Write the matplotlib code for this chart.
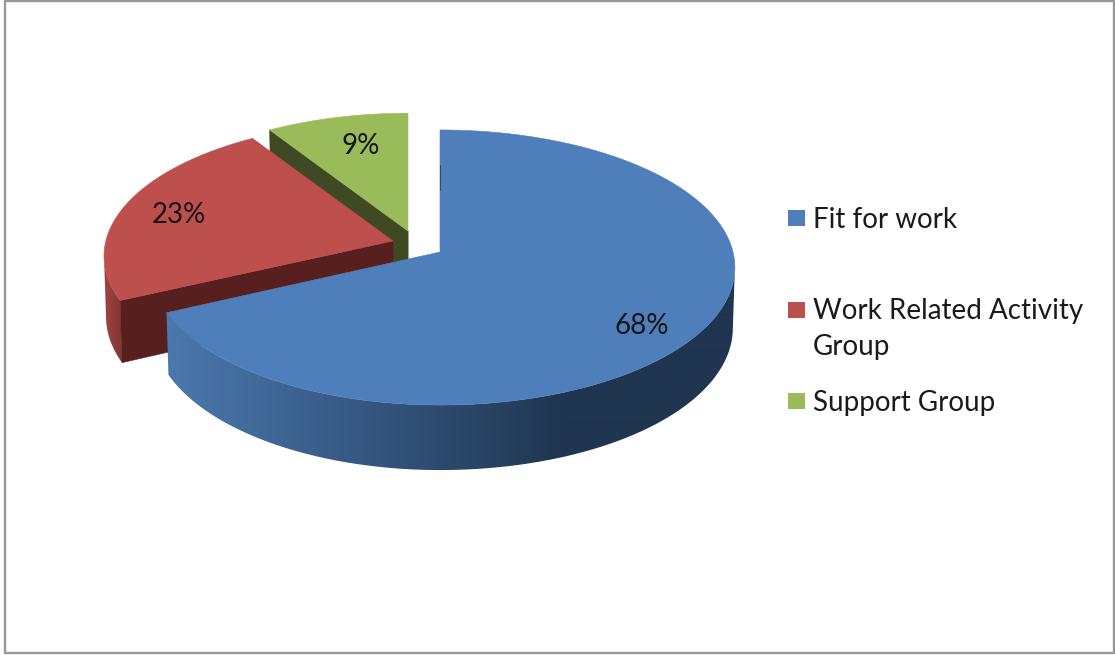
import numpy as np
import matplotlib
matplotlib.use("Agg")
import matplotlib.pyplot as plt
from matplotlib.colors import LinearSegmentedColormap
from matplotlib.patches import Polygon, Rectangle

# Benefit assessment outcomes
categories = ["Fit for work", "Work Related Activity\nGroup", "Support Group"]
shares = [68, 23, 9]
pct_labels = ["68%", "23%", "9%"]

top_colors = ["#4f7fbb", "#bd4f4c", "#9abb59"]
cut_colors = ["#1f3550", "#57201f", "#3f4a22"]
side_light = ["#4b78af", "#a84644", "#8aa84f"]
side_dark = ["#1f3550", "#7d3331", "#5f7434"]
side_span = [(168, 570), (100, 125), (260, 300)]
apexes = [(440, 252), (393, 241), (408, 231)]
radius_scale = [1.0, 0.98, 0.965]
left_squeeze = [0.982, 1.0, 1.0]
label_pos = [(642, 326), (179, 215), (361, 146)]
legend_rows = [218, 310, 401]

RX, RY, PERSP = 293.0, 135.8, 0.1127
DEPTH = 60.0
TILT = 5.0
SHRINK = 0.993


def rim(i, t):
    """Project pie angle t (clockwise from 12 o'clock) onto the tilted disc."""
    w = 1 + PERSP * np.cos(t)
    s = np.sin(t)
    sx = np.where(s < 0, left_squeeze[i], 1.0)
    k = radius_scale[i]
    return apexes[i][0] + k * sx * RX * s / w, apexes[i][1] - k * RY * np.cos(t) / w


def lower(i, x, y, t):
    """Point on the underside directly below a rim point."""
    return apexes[i][0] + (x - apexes[i][0]) * SHRINK, y + DEPTH - TILT * np.cos(t)


fig = plt.figure(figsize=(11.15, 6.55), dpi=100, facecolor="white")
ax = fig.add_axes([0, 0, 1, 1])
ax.axis("off")

ax.add_patch(Rectangle((4.5, 1), 1109, 652, fill=False, ec="#989898", lw=1.7, zorder=0))

edges = np.cumsum([0] + shares) / sum(shares) * 2 * np.pi

for i, z in ((2, 1), (1, 2), (0, 3)):
    apex = apexes[i]
    t = np.linspace(edges[i], edges[i + 1], 400)
    x, y = rim(i, t)
    bx, by = lower(i, x, y, t)

    # Curved outer wall with a horizontal shading ramp, from silhouette to silhouette
    front = np.cos(t) < -PERSP
    if front.sum() > 2:
        outline = list(zip(x[front], y[front])) + list(zip(bx[front][::-1], by[front][::-1]))
        wall = Polygon(outline, closed=True, fc="none", ec="none", transform=ax.transData)
        ax.add_patch(wall)
        cmap = LinearSegmentedColormap.from_list("wall", [side_light[i], side_dark[i]])
        x0, x1 = side_span[i]
        ramp = np.clip((np.linspace(0, 1115, 1115) - x0) / (x1 - x0), 0, 1)[None, :]
        img = ax.imshow(ramp, cmap=cmap, vmin=0, vmax=1, extent=(0, 1115, 655, 0),
                        aspect="auto", zorder=z, interpolation="bilinear")
        img.set_clip_path(wall)

    # Flat cut face along the leading radius of each exploded slice
    if i > 0:
        px, py = rim(i, edges[i])
        qx, qy = lower(i, px, py, edges[i])
        ax.add_patch(Polygon([apex, (px, py), (qx, qy), (apex[0], apex[1] + DEPTH)],
                             closed=True, fc=cut_colors[i], ec=cut_colors[i], lw=0.4, zorder=z))
    if i == 2:
        # Closing cut of the small slice, seen nearly edge-on
        ax.add_patch(Polygon([apex, (apex[0] - 15, apex[1] + 10), (apex[0] - 15, apex[1] + DEPTH),
                              (apex[0], apex[1] + DEPTH)],
                             closed=True, fc=cut_colors[i], ec=cut_colors[i], lw=0.4, zorder=z))

    # Top surface
    ax.add_patch(Polygon([apex] + list(zip(x, y)), closed=True,
                         fc=top_colors[i], ec=top_colors[i], lw=0.4, zorder=z + 0.5))

    ax.text(*label_pos[i], pct_labels[i], ha="center", va="center",
            fontsize=20, family="Lato", color="#151515", zorder=6)

# Sliver of the large slice's cut face along its vertical edge
ax.plot([439.6, 439.6], [apexes[0][1] - 87, apexes[0][1] - 62], color=cut_colors[0], lw=0.5, zorder=4)

# Legend swatches and entries
for name, color, yc in zip(categories, top_colors, legend_rows):
    ax.add_patch(Rectangle((788, yc - 8.5), 16.5, 16.5, fc=color, ec="none", zorder=6))
    ax.text(813, yc - 11.5, name, ha="left", va="top", fontsize=20, family="Lato",
            color="#1a1a1a", linespacing=1.45, zorder=6)

ax.set_xlim(0, 1115)
ax.set_ylim(655, 0)
fig.savefig("out.png", dpi=100, facecolor="white")
